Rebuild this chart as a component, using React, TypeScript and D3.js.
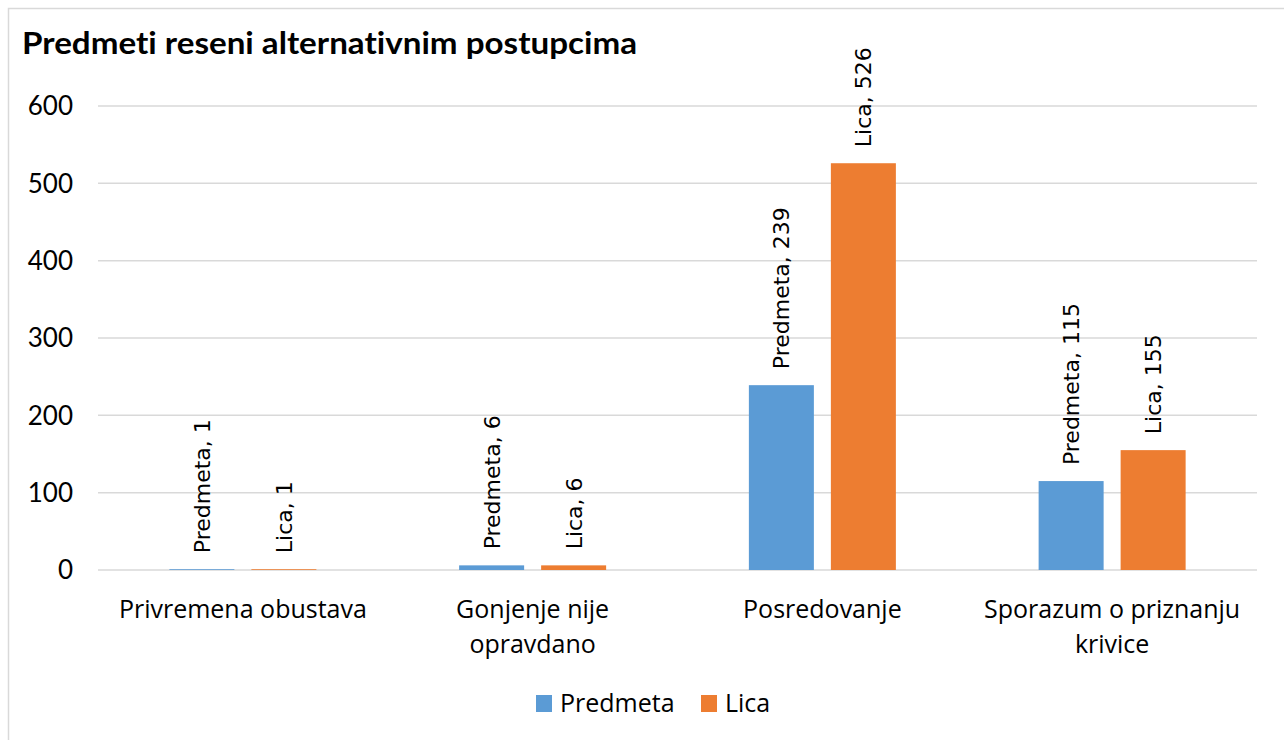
import React from "react";
import * as d3 from "d3";

const categories = ["Privremena obustava", "Gonjenje nije opravdano", "Posredovanje", "Sporazum o priznanju krivice"];
const categoryLines = [["Privremena obustava"], ["Gonjenje nije", "opravdano"], ["Posredovanje"], ["Sporazum o priznanju", "krivice"]];
const seriesNames = ["Predmeta", "Lica"];
const predmeta = [1, 6, 239, 115];
const lica = [1, 6, 526, 155];
const seriesColors = ["#5B9BD5", "#ED7D31"];
const yTicks = [0, 100, 200, 300, 400, 500, 600];
const title = "Predmeti reseni alternativnim postupcima";

export default function App() {
  const W = 1284, H = 740;
  const plotL = 98, plotR = 1257, plotT = 106, plotB = 570;
  const y = d3.scaleLinear().domain([0, 600]).range([plotB, plotT]);
  const x0 = d3.scaleBand<string>().domain(categories).range([plotL, plotR]).padding(0);
  const groupW = 147;
  const x1 = d3.scaleBand<string>().domain(seriesNames).range([0, groupW]).paddingInner(0.2073).paddingOuter(0);
  const values = [predmeta, lica];
  const axisFont = "'Open Sans', Lato, sans-serif";
  const tickFont = "Lato, 'Open Sans', sans-serif";

  return (
    <svg width={W} height={H} style={{ position: "absolute", left: 0, top: 0, background: "#fff", fontVariantLigatures: "none" }}>
      <rect x={8.5} y={8.5} width={W + 10} height={H + 10} fill="#fff" stroke="#d9d9d9" strokeWidth={1.5} />
      <text x={22} y={54} fontFamily={tickFont} fontWeight={700} fontSize={30} fill="#000" textLength={615} lengthAdjust="spacingAndGlyphs">{title}</text>
      {yTicks.map((t) => (
        <g key={t}>
          <line x1={plotL} x2={plotR} y1={y(t)} y2={y(t)} stroke="#d9d9d9" strokeWidth={1.5} />
          <text x={73} y={y(t)} dy="0.36em" textAnchor="end" fontFamily={tickFont} fontSize={26} fill="#000">{t}</text>
        </g>
      ))}
      {categories.map((c, ci) => {
        const gx = (x0(c) as number) + (x0.bandwidth() - groupW) / 2;
        return (
          <g key={c}>
            {seriesNames.map((s, si) => {
              const v = values[si][ci];
              const bx = gx + (x1(s) as number);
              const bw = x1.bandwidth();
              const top = y(v);
              const cx = bx + bw / 2;
              const ly = top - 16;
              return (
                <g key={s}>
                  <rect x={bx} y={top} width={bw} height={plotB - top} fill={seriesColors[si]} />
                  <text
                    transform={`translate(${cx},${ly}) rotate(-90)`}
                    dy="0.36em"
                    fontFamily="'DejaVu Sans', Verdana, sans-serif"
                    fontSize={22}
                    fill="#000"
                  >{`${s}, ${v}`}</text>
                </g>
              );
            })}
            {categoryLines[ci].map((ln, li) => (
              <text key={li} x={(x0(c) as number) + x0.bandwidth() / 2} y={618 + li * 35} textAnchor="middle" fontFamily={axisFont} fontSize={25} fill="#000">{ln}</text>
            ))}
          </g>
        );
      })}
      {seriesNames.map((s, si) => {
        const lx = [536, 701][si];
        return (
          <g key={s}>
            <rect x={lx} y={695} width={16} height={17} fill={seriesColors[si]} />
            <text x={lx + 24} y={712} fontFamily={axisFont} fontSize={25} fill="#000">{s}</text>
          </g>
        );
      })}
    </svg>
  );
}
